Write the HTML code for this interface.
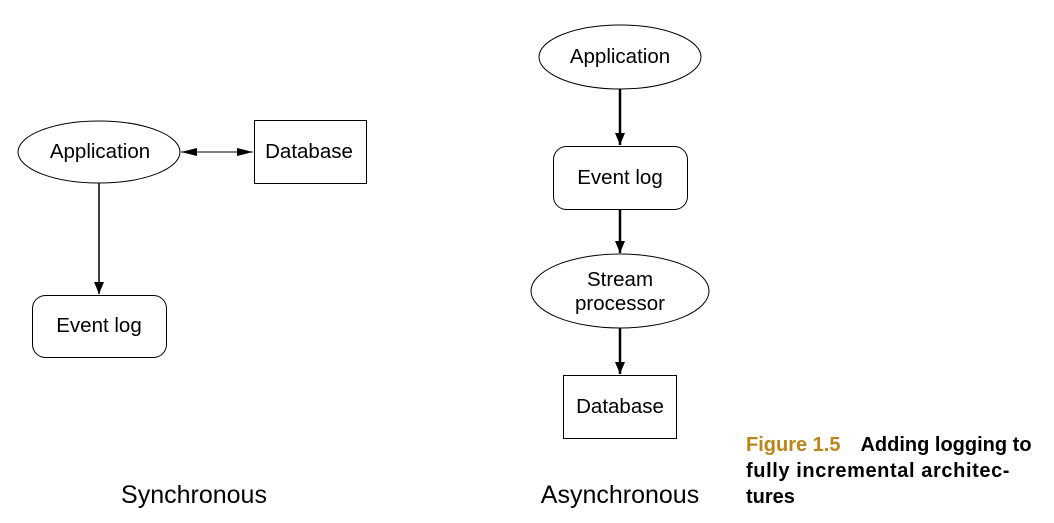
<!DOCTYPE html>
<html><head><style>
body{margin:0;background:#fff;width:1054px;height:518px;overflow:hidden;}
svg text{font-family:"Liberation Sans",sans-serif;}
</style></head><body>
<svg width="1054" height="518" viewBox="0 0 1054 518">
<defs>
<marker id="a" markerWidth="12" markerHeight="10" refX="12" refY="5" orient="auto" markerUnits="userSpaceOnUse"><path d="M0,0 L12,5 L0,10 Z" fill="#000"/></marker>
<marker id="b" markerWidth="16" markerHeight="8" refX="16" refY="4" orient="auto" markerUnits="userSpaceOnUse"><path d="M0,0 L16,4 L0,8 Z" fill="#000"/></marker>
<marker id="s" markerWidth="16" markerHeight="8" refX="0" refY="4" orient="auto" markerUnits="userSpaceOnUse"><path d="M16,0 L0,4 L16,8 Z" fill="#000"/></marker>
</defs>
<g fill="none" stroke="#000" stroke-width="1">
<ellipse cx="99" cy="152" rx="81" ry="31"/>
<rect x="254.5" y="120.5" width="112" height="63"/>
<rect x="32.5" y="295.5" width="134" height="62" rx="13"/>
<ellipse cx="620" cy="57" rx="81" ry="32"/>
<rect x="553.5" y="146.5" width="134" height="63" rx="13"/>
<ellipse cx="620" cy="291" rx="89" ry="37"/>
<rect x="563.5" y="375.5" width="113" height="63"/>
</g>
<g stroke="#000" stroke-width="1.5">
<line x1="181" y1="152" x2="253" y2="152" stroke-width="1" marker-start="url(#s)" marker-end="url(#b)"/>
<line x1="99" y1="183" x2="99" y2="294" marker-end="url(#a)"/>
<line x1="620" y1="89" x2="620" y2="145" stroke-width="2.5" marker-end="url(#a)"/>
<line x1="620" y1="210" x2="620" y2="253" stroke-width="2.5" marker-end="url(#a)"/>
<line x1="620" y1="328" x2="620" y2="374" stroke-width="2.5" marker-end="url(#a)"/>
</g>
<g font-size="20.5" text-anchor="middle" fill="#000">
<text x="100" y="158">Application</text>
<text x="309" y="158">Database</text>
<text x="99" y="332">Event log</text>
<text x="620" y="63">Application</text>
<text x="620" y="184">Event log</text>
<text x="620" y="286">Stream</text>
<text x="620" y="310">processor</text>
<text x="620" y="413">Database</text>
<text x="194" y="503" font-size="25">Synchronous</text>
<text x="620" y="503" font-size="25">Asynchronous</text>
</g>
<g font-size="20" font-weight="bold" fill="#000">
<text x="746" y="451"><tspan fill="#b8861a">Figure 1.5</tspan><tspan dx="20">Adding logging to</tspan></text>
<text x="746" y="477" letter-spacing="0.6">fully incremental architec-</text>
<text x="746" y="503">tures</text>
</g>
</svg>
</body></html>
